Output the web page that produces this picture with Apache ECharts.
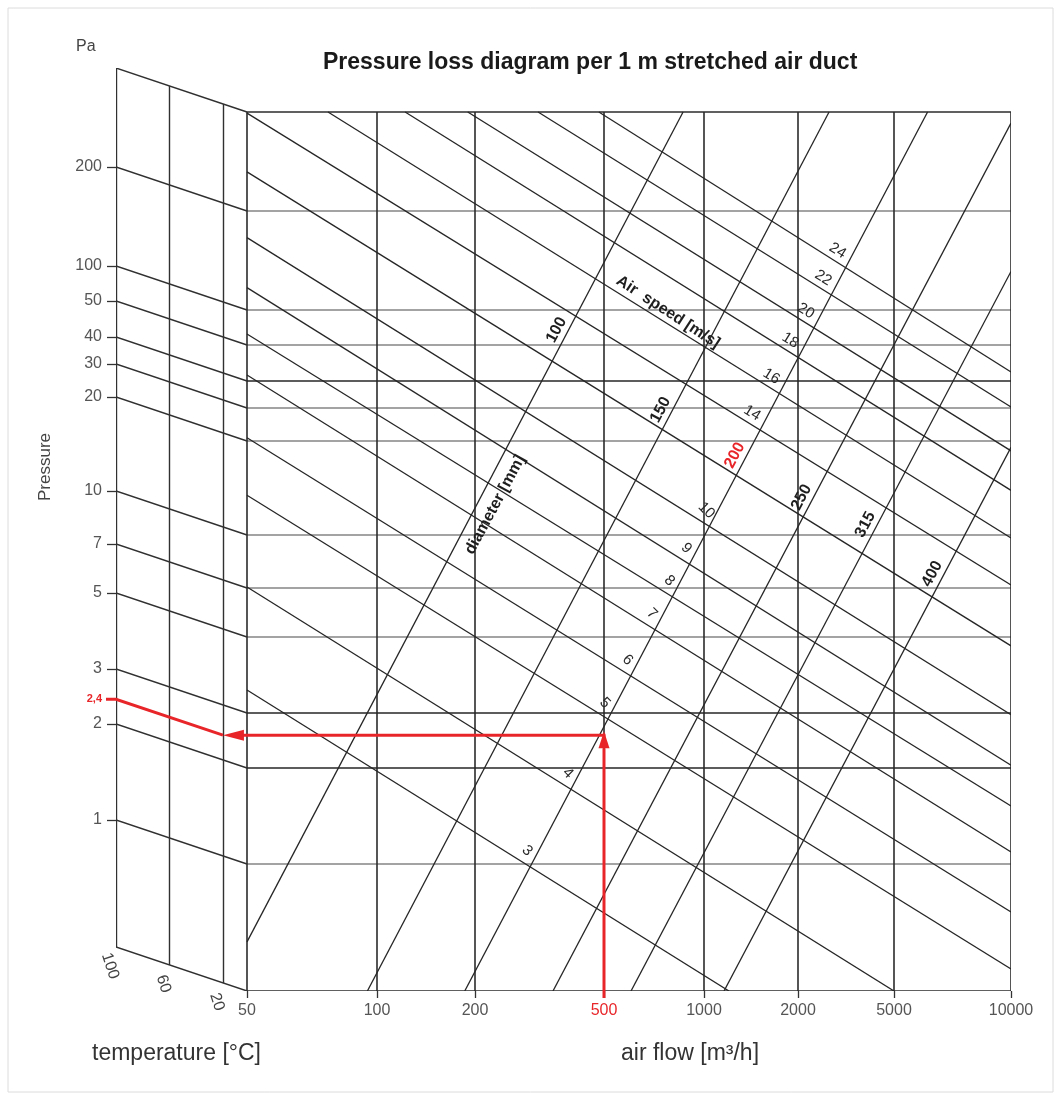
<!DOCTYPE html>
<html>
<head>
<meta charset="utf-8">
<script src="https://cdn.jsdelivr.net/npm/echarts@6/dist/echarts.min.js"></script>
<style>html,body{margin:0;padding:0;background:#fff}#chart{width:1062px;height:1100px}</style>
</head>
<body>
<div id="chart"></div>
<script>
// ---------------- DATA ----------------
const flowTicks = [50, 100, 200, 500, 1000, 2000, 5000, 10000];          // m3/h, axis ends = first/last
const pressureTicks = [200, 100, 50, 40, 30, 20, 10, 7, 5, 3, 2, 1];       // Pa
const pressureRange = [0.4, 400];                                         // Pa at bottom / top of plot
const temperatureTicks = [100, 60, 20];                                   // °C
const temperatureRange = [2, 100];                                        // °C (right edge / left edge of oblique panel)

const diameters = [100, 150, 200, 250, 315, 400];                          // mm
const diameterLow  = [[50, 0.57], [95, 0.4], [186, 0.4], [348, 0.4], [603, 0.4], [1159, 0.4]];      // [flow, Pa]
const diameterHigh = [[865, 400], [2690, 400], [6100, 400], [10000, 370], [10000, 131], [10000, 19.1]];
const diameterLabelPressure = [67.3, 29.3, 18.0, 13.2, 10.8, 7.7];

const speeds = [3, 4, 5, 6, 7, 8, 9, 10, 12, 14, 16, 18, 20, 22, 24];        // m/s
const speedHigh = [[50, 3.5], [50, 7.05], [50, 13.4], [50, 20.8], [50, 41.5], [50, 62.2], [50, 117], [50, 166],
                   [50, 263], [50, 397], [77, 400], [122, 400], [190, 400], [313, 400], [482, 400]];
const speedLow  = [[1202, 0.4], [5000, 0.4], [10000, 0.469], [10000, 0.707], [10000, 1.09], [10000, 1.52],
                   [10000, 2.04], [10000, 2.96], [10000, 4.71], [10000, 7.14], [10000, 9.8], [10000, 13.9],
                   [10000, 18.6], [10000, 30.3], [10000, 42.3]];
const labeledSpeeds = [3, 4, 5, 6, 7, 8, 9, 10, 14, 16, 18, 20, 22, 24];

const exampleFlow = 500;          // m3/h
const exampleDiameter = 200;      // mm
const exampleTemperature = 20;    // °C
const examplePressure = 2.4;      // Pa

const airSpeedCaptionAt = [779, 96];     // [flow, Pa]
const diameterCaptionAt = [231, 12.5];   // [flow, Pa]

// ---------------- LAYOUT / STYLE ----------------
const FONT = 'Liberation Sans, Arial, Helvetica, sans-serif';
const LAYOUT = {
  grid: { left: 116, top: 68, right: 51, bottom: 109 },
  // relative position of each flow tick along the (non-uniform) printed flow axis
  flowFrac: [0, 0.17016, 0.29843, 0.46728, 0.59817, 0.72120, 0.84686, 1],
  // relative position of each pressure stop (ascending) along the printed pressure axis
  pressureFrac: [0, 0.14448, 0.25370, 0.31627, 0.40273, 0.45848, 0.51877, 0.62571, 0.66325, 0.69397, 0.73493, 0.77474, 0.88737, 1],
  panel: 131 / 764,   // width of oblique temperature panel, in units of plot width
  rise: 44 / 879      // rise of oblique panel, in units of plot height
};
const STYLE = {
  vgrid: { color: '#2b2b2b', width: 1.6 },
  hLight: { color: '#a3a3a3', width: 2.2 },
  hDark: { color: '#262626', width: 1.6 },
  frame: { color: '#2b2b2b', width: 1.6 },
  diag: { color: '#262626', width: 1.3 },
  panel: { color: '#303030', width: 1.4 },
  darkPressures: [40, 3, 2],
  red: '#e8262a'
};

// ---------------- SCALES ----------------
const flowStops = flowTicks.slice();
const pressureStops = [pressureRange[0]].concat(pressureTicks.slice().sort((a, b) => a - b), [pressureRange[1]]);
function piece(v, stops, fr) {
  let i = 0;
  while (i < stops.length - 2 && v > stops[i + 1]) i++;
  const t = Math.log(v / stops[i]) / Math.log(stops[i + 1] / stops[i]);
  return fr[i] + t * (fr[i + 1] - fr[i]);
}
const fx = f => piece(f, flowStops, LAYOUT.flowFrac);
const fy = p => piece(p, pressureStops, LAYOUT.pressureFrac);
const tSpan = temperatureRange[1] - temperatureRange[0];
const tx = T => -LAYOUT.panel * (T - temperatureRange[0]) / tSpan;
const ty = (T, u) => u + LAYOUT.rise * (T - temperatureRange[0]) / tSpan;
const TMAX = temperatureRange[1];

const P = (pair) => [fx(pair[0]), fy(pair[1])];
const seg = (a, b, st) => ({ coords: [a, b], lineStyle: { color: st.color, width: st.width, opacity: 1 } });

// ---------------- LINE SETS ----------------
const lightH = pressureTicks.filter(p => !STYLE.darkPressures.includes(p)).map(p => seg([0, fy(p)], [1, fy(p)], STYLE.hLight));
const darkH = pressureTicks.filter(p => STYLE.darkPressures.includes(p)).map(p => seg([0, fy(p)], [1, fy(p)], STYLE.hDark));
const verticals = flowTicks.map(f => seg([fx(f), 0], [fx(f), 1], STYLE.vgrid));
verticals.push(seg([0, 1], [1, 1], STYLE.frame), seg([0, 0], [1, 0], STYLE.frame));

const diameterLines = diameters.map((d, i) => seg(P(diameterLow[i]), P(diameterHigh[i]), STYLE.diag));
const speedLines = speeds.map((s, i) => seg(P(speedHigh[i]), P(speedLow[i]), STYLE.diag));

const panelLines = [];
temperatureTicks.forEach(T => panelLines.push(seg([tx(T), ty(T, 0)], [tx(T), ty(T, 1)], STYLE.panel)));
panelLines.push(seg([tx(TMAX), ty(TMAX, 1)], [0, 1], STYLE.panel));
panelLines.push(seg([tx(TMAX), ty(TMAX, 0)], [0, 0], STYLE.panel));
pressureTicks.forEach(p => panelLines.push(seg([tx(TMAX), ty(TMAX, fy(p))], [0, fy(p)], STYLE.panel)));

// ---------------- TEXT SPECS ----------------
function intersect(a0, a1, b0, b1) {
  const d1 = [a1[0] - a0[0], a1[1] - a0[1]], d2 = [b1[0] - b0[0], b1[1] - b0[1]];
  const den = d1[0] * d2[1] - d1[1] * d2[0];
  const t = ((b0[0] - a0[0]) * d2[1] - (b0[1] - a0[1]) * d2[0]) / den;
  return [a0[0] + t * d1[0], a0[1] + t * d1[1]];
}
const texts = [];
diameters.forEach((d, i) => {
  const a = P(diameterLow[i]), b = P(diameterHigh[i]);
  const u = fy(diameterLabelPressure[i]);
  const t = (u - a[1]) / (b[1] - a[1]);
  texts.push({ x: a[0] + t * (b[0] - a[0]), y: u, text: String(d), dx: -12, dy: 0, rot: 62,
    size: 16, weight: 'bold', color: d === exampleDiameter ? STYLE.red : '#1e1e1e' });
});
const refIdx = diameters.indexOf(exampleDiameter);
const refA = P(diameterLow[refIdx]), refB = P(diameterHigh[refIdx]);
labeledSpeeds.forEach(s => {
  const i = speeds.indexOf(s);
  const c = intersect(P(speedHigh[i]), P(speedLow[i]), refA, refB);
  const low = s <= 10;
  texts.push({ x: c[0], y: c[1], text: String(s), dx: low ? -3 : -8, dy: low ? -16 : -17, rot: low ? -45 : -32,
    size: 15, weight: 'normal', color: '#2a2a2a' });
});
texts.push({ x: fx(airSpeedCaptionAt[0]), y: fy(airSpeedCaptionAt[1]), text: 'Air  speed [m/s]', dx: 0, dy: 0, rot: -33,
  size: 16, weight: 'bold', color: '#1e1e1e' });
texts.push({ x: fx(diameterCaptionAt[0]), y: fy(diameterCaptionAt[1]), text: 'diameter [mm]', dx: 0, dy: 0, rot: 61.6,
  size: 16, weight: 'bold', color: '#1e1e1e' });
temperatureTicks.forEach(T => {
  texts.push({ x: tx(T), y: ty(T, 0), text: String(T), dx: -6, dy: 19, rot: -72, size: 16, weight: 'normal', color: '#444' });
});

// ---------------- AXIS LABEL MAPS ----------------
const xLabelVals = flowTicks.map(fx);
const xLabelMap = {};
flowTicks.forEach(f => { xLabelMap[fx(f).toFixed(6)] = f === exampleFlow ? '{red|' + f + '}' : String(f); });
const yTickVals = pressureTicks.map(p => ty(TMAX, fy(p)));
const yLabelMap = {};
pressureTicks.forEach(p => { yLabelMap[ty(TMAX, fy(p)).toFixed(6)] = String(p); });
const exampleLabelVal = ty(TMAX, fy(examplePressure));
yLabelMap[exampleLabelVal.toFixed(6)] = '{red|' + String(examplePressure).replace('.', ',') + '}';
const yLabelVals = yTickVals.concat([exampleLabelVal]);

const lineSeries = (data, z) => ({ type: 'lines', coordinateSystem: 'cartesian2d', xAxisIndex: 0, yAxisIndex: 0,
  data: data, silent: true, z: z, polyline: false, effect: { show: false }, lineStyle: { opacity: 1 } });

const chart = echarts.init(document.getElementById('chart'), null, { renderer: 'canvas' });
chart.setOption({
  animation: false,
  backgroundColor: '#ffffff',
  textStyle: { fontFamily: FONT },
  title: { text: 'Pressure loss diagram per 1 m stretched air duct', left: 318, top: 46,
    textStyle: { fontSize: 23, fontWeight: 'bold', color: '#1a1a1a', fontFamily: FONT } },
  grid: Object.assign({ containLabel: false }, LAYOUT.grid),
  xAxis: {
    type: 'value', min: -LAYOUT.panel, max: 1,
    axisLine: { show: false, onZero: false }, splitLine: { show: false },
    axisTick: { show: true, customValues: xLabelVals, length: 7, lineStyle: { color: '#333', width: 1.3 } },
    axisLabel: { customValues: xLabelVals, margin: 12, fontSize: 16, color: '#555', fontFamily: FONT,
      showMinLabel: true, showMaxLabel: true,
      formatter: v => xLabelMap[Number(v).toFixed(6)] || '',
      rich: { red: { color: STYLE.red, fontSize: 16, fontFamily: FONT } } }
  },
  yAxis: {
    type: 'value', min: 0, max: 1 + LAYOUT.rise, position: 'left',
    axisLine: { show: false, onZero: false }, splitLine: { show: false },
    axisTick: { show: true, customValues: yTickVals, length: 9, lineStyle: { color: '#333', width: 1.3 } },
    axisLabel: { customValues: yLabelVals, margin: 14, fontSize: 16, color: '#555', fontFamily: FONT,
      showMinLabel: true, showMaxLabel: true,
      formatter: v => yLabelMap[Number(v).toFixed(6)] || '',
      rich: { red: { color: STYLE.red, fontSize: 11, fontWeight: 'bold', fontFamily: FONT } } }
  },
  graphic: [
    { type: 'rect', shape: { x: 8, y: 8, width: 1045, height: 1084 }, style: { fill: null, stroke: '#dcdcdc', lineWidth: 1 }, z: -10 },
    { type: 'text', x: 76, y: 39, style: { text: 'Pa', fontSize: 16, fill: '#444', fontFamily: FONT } },
    { type: 'text', x: 45, y: 467, rotation: Math.PI / 2,
      style: { text: 'Pressure', fontSize: 17, fill: '#444', fontFamily: FONT, align: 'center', verticalAlign: 'middle' } },
    { type: 'text', x: 92, y: 1042, style: { text: 'temperature [°C]', fontSize: 23, fill: '#333', fontFamily: FONT } },
    { type: 'text', x: 621, y: 1042, style: { text: 'air flow [m³/h]', fontSize: 23, fill: '#333', fontFamily: FONT } }
  ],
  series: [
    lineSeries(lightH, 2),
    lineSeries(verticals, 3),
    lineSeries(darkH, 3),
    lineSeries(panelLines, 3),
    lineSeries(diameterLines, 4),
    lineSeries(speedLines, 4),
    {
      type: 'custom', coordinateSystem: 'cartesian2d', silent: true, z: 6,
      data: texts.map((t, i) => [t.x, t.y, i]),
      renderItem: (params, api) => {
        const s = texts[api.value(2)];
        const p = api.coord([api.value(0), api.value(1)]);
        return { type: 'text', x: p[0] + s.dx, y: p[1] + s.dy, rotation: s.rot * Math.PI / 180,
          style: { text: s.text, fill: s.color, fontSize: s.size, fontWeight: s.weight, fontFamily: FONT,
                   align: 'center', verticalAlign: 'middle' } };
      }
    },
    {
      type: 'custom', coordinateSystem: 'cartesian2d', silent: true, z: 7,
      data: [[exampleFlow, examplePressure, exampleTemperature]],
      renderItem: (params, api) => {
        const u = fy(api.value(1));
        const T = api.value(2);
        const level = ty(T, u);
        const xF = fx(api.value(0));
        const pB = api.coord([xF, 0]);
        const pC = api.coord([xF, level]);
        const pT = api.coord([tx(T), level]);
        const pA = api.coord([tx(TMAX), ty(TMAX, u)]);
        const L = 17, W = 5.5, lw = 3, red = STYLE.red;
        const line = pts => ({ type: 'polyline', shape: { points: pts }, style: { stroke: red, lineWidth: lw, fill: null } });
        const poly = pts => ({ type: 'polygon', shape: { points: pts }, style: { fill: red, stroke: null } });
        return { type: 'group', children: [
          line([[pB[0], pB[1] + 7], [pC[0], pC[1] + L - 4]]),
          poly([[pC[0], pC[1] - 4], [pC[0] - W, pC[1] + L - 4], [pC[0] + W, pC[1] + L - 4]]),
          line([[pC[0] + 1.5, pC[1]], [pT[0] + L - 2, pT[1]]]),
          poly([[pT[0], pT[1]], [pT[0] + L + 4, pT[1] - W], [pT[0] + L + 4, pT[1] + W]]),
          line([[pT[0], pT[1]], [pA[0], pA[1]], [pA[0] - 10, pA[1]]])
        ] };
      }
    }
  ]
});
</script>
</body>
</html>
